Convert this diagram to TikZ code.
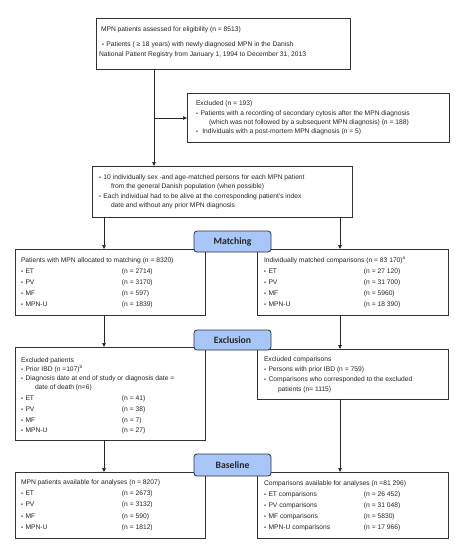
\documentclass[tikz,border=0pt]{standalone}
\usepackage{fontspec}
\setmainfont{Liberation Sans}
\newfontfamily\lblfont{Carlito}
\usetikzlibrary{arrows.meta}
\definecolor{lblfill}{HTML}{A8C6F7}
\definecolor{lbldraw}{HTML}{2A3245}
\definecolor{boxdraw}{HTML}{333333}
\newcounter{tln}
\newcommand\tl[3]{\stepcounter{tln}\node[txt] (t\arabic{tln}) at (#1,#2) {#3};}
\newcommand\bul{\makebox[4.5pt][l]{\fontsize{5.5}{5.5}\selectfont •}}
\newcommand\col[2]{\makebox[#1][l]{#2}}
\begin{document}
\begin{tikzpicture}[x=1pt,y=-1pt,
 box/.style={draw=boxdraw,line width=0.75pt,inner sep=0pt,outer sep=0pt,anchor=north west,fill=white},
 lbl/.style={draw=lbldraw,fill=lblfill,line width=0.8pt,rounded corners=3pt,inner sep=0pt,outer sep=0pt,font=\lblfont\bfseries\fontsize{9.7}{10}\selectfont,text=black!85,minimum width=77pt,minimum height=21pt},
 txt/.style={anchor=west,inner sep=0pt,outer sep=0pt,font=\fontsize{6.7}{7}\selectfont,text height=4.8pt,text depth=0pt,text=black!85},
 arr/.style={-{Triangle[length=4pt,width=3.5pt]},line width=0.7pt,draw=black!85}]
\useasboundingbox (0,0) rectangle (471,550);
% boxes
\node[box,minimum width=254pt,minimum height=51pt] (top) at (96,18) {};
\node[box,minimum width=262pt,minimum height=49pt] (exc) at (187,93) {};
\node[box,minimum width=260pt,minimum height=51pt] (mid) at (92,166) {};
\node[box,minimum width=190pt,minimum height=66pt] (ml) at (15,249) {};
\node[box,minimum width=191pt,minimum height=66pt] (mr) at (257,249) {};
\node[box,minimum width=190pt,minimum height=93pt] (el) at (15,347) {};
\node[box,minimum width=191pt,minimum height=50pt] (er) at (257,349) {};
\node[box,minimum width=190pt,minimum height=66pt] (bsl) at (15,472) {};
\node[box,minimum width=191pt,minimum height=66pt] (bsr) at (257,472) {};
% connectors
\coordinate (xA) at (154,0);
\coordinate (xL) at (104,0);
\coordinate (xR) at (340,0);
\coordinate (brn) at (154,118);
\draw[arr] (top.south -| xA) -- (mid.north -| xA);
\draw[arr] (brn) -- (brn -| exc.west);
\draw[arr] (mid.south -| xL) -- (ml.north -| xL);
\draw[arr] (mid.south -| xR) -- (mr.north -| xR);
\draw[arr] (ml.south -| xL) -- (el.north -| xL);
\draw[arr] (mr.south -| xR) -- (er.north -| xR);
\draw[arr] (el.south -| xL) -- (bsl.north -| xL);
\draw[arr] (er.south -| xR) -- (bsr.north -| xR);
% texts
\tl{101}{29}{MPN patients assessed for eligibility (n = 8513)}
\tl{102}{44}{\bul Patients ( ≥ 18 years) with newly diagnosed MPN in the Danish}
\tl{99}{54}{National Patient Registry from January 1, 1994 to December 31, 2013}
\tl{196}{103}{Excluded (n = 193)}
\tl{196}{113}{\bul Patients with a recording of secondary cytosis after the MPN diagnosis}
\tl{209}{122}{(which was not followed by a subsequent MPN diagnosis) (n = 188)}
\tl{196}{131}{\bul\ Individuals with a post-mortem MPN diagnosis (n = 5)}
\tl{99}{177}{\bul 10 individually sex -and age-matched persons for each MPN patient}
\tl{111}{186}{from the general Danish population (when possible)}
\tl{99}{196}{\bul Each individual had to be alive at the corresponding patient’s index}
\tl{111}{205}{date and without any prior MPN diagnosis}
\tl{21}{260}{Patients with MPN allocated to matching (n = 8320)}
\tl{21}{271}{\col{101pt}{\bul ET}(n = 2714)}
\tl{21}{282}{\col{101pt}{\bul PV}(n = 3170)}
\tl{21}{293}{\col{101pt}{\bul MF}(n = 597)}
\tl{21}{304}{\col{101pt}{\bul MPN-U}(n = 1839)}
\tl{264}{260}{Individually matched comparisons (n = 83 170)\textsuperscript{a}}
\tl{264}{271}{\col{100pt}{\bul ET}(n = 27 120)}
\tl{264}{282}{\col{100pt}{\bul PV}(n = 31 700)}
\tl{264}{293}{\col{100pt}{\bul MF}(n = 5960)}
\tl{264}{304}{\col{100pt}{\bul MPN-U}(n = 18 390)}
\tl{21}{360}{Excluded patients}
\tl{21}{369}{\bul Prior IBD (n =107)\textsuperscript{b}}
\tl{21}{378}{\bul Diagnosis date at end of study or diagnosis date =}
\tl{35}{387}{date of death (n=6)}
\tl{21}{398}{\col{101pt}{\bul ET}(n = 41)}
\tl{21}{409}{\col{101pt}{\bul PV}(n = 38)}
\tl{21}{420}{\col{101pt}{\bul MF}(n = 7)}
\tl{21}{430}{\col{101pt}{\bul MPN-U}(n = 27)}
\tl{264}{359}{Excluded comparisons}
\tl{264}{369}{\bul Persons with prior IBD (n = 759)}
\tl{264}{379}{\bul Comparisons who corresponded to the excluded}
\tl{278}{389}{patients (n= 1115)}
\tl{21}{482}{MPN patients available for analyses (n = 8207)}
\tl{21}{493}{\col{101pt}{\bul ET}(n = 2673)}
\tl{21}{504}{\col{101pt}{\bul PV}(n = 3132)}
\tl{21}{516}{\col{101pt}{\bul MF}(n = 590)}
\tl{21}{527}{\col{101pt}{\bul MPN-U}(n = 1812)}
\tl{264}{483}{Comparisons available for analyses (n =81 296)}
\tl{264}{494}{\col{100pt}{\bul ET comparisons}(n = 26 452)}
\tl{264}{505}{\col{100pt}{\bul PV comparisons}(n = 31 048)}
\tl{264}{516}{\col{100pt}{\bul MF comparisons}(n = 5830)}
\tl{264}{527}{\col{100pt}{\bul MPN-U comparisons}(n = 17 966)}
% labels
\node[lbl] (lm) at (232.5,241.5) {Matching};
\node[lbl,minimum height=20pt] (le) at (232.5,340) {Exclusion};
\node[lbl,minimum height=22pt] (lb) at (232.5,465) {Baseline};
\end{tikzpicture}
\end{document}
